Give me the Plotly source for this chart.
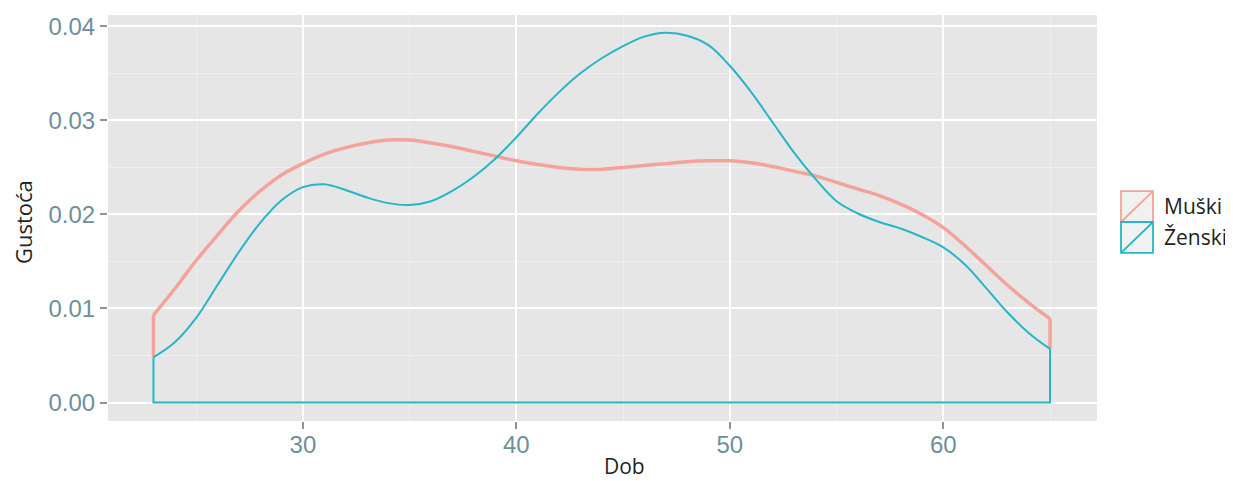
import plotly.graph_objects as go

# ---- data ----
AGE = list(range(23, 66))
MUSKI = [0.0093, 0.0121, 0.0151, 0.0178, 0.0204, 0.0225, 0.0242, 0.0254, 0.0264, 0.0271,
         0.0276, 0.0279, 0.0279, 0.0276, 0.0272, 0.0267, 0.0262, 0.0257, 0.0253, 0.0250,
         0.0248, 0.0248, 0.0250, 0.0252, 0.0254, 0.0256, 0.0257, 0.0257, 0.0255, 0.0251,
         0.0246, 0.0241, 0.0234, 0.0227, 0.0220, 0.0211, 0.0200, 0.0186, 0.0167, 0.0146,
         0.0125, 0.0106, 0.0089]
ZENSKI = [0.0048, 0.0064, 0.0090, 0.0125, 0.0160, 0.0191, 0.0215, 0.0229, 0.0232, 0.0226,
          0.0218, 0.0212, 0.0210, 0.0214, 0.0225, 0.0240, 0.0259, 0.0282, 0.0307, 0.0330,
          0.0350, 0.0366, 0.0379, 0.0389, 0.0393, 0.0390, 0.0380, 0.0358, 0.0330, 0.0298,
          0.0266, 0.0238, 0.0214, 0.0201, 0.0192, 0.0185, 0.0176, 0.0165, 0.0147, 0.0122,
          0.0096, 0.0074, 0.0057]
SERIES = ["Muški", "Ženski"]
X_TICKS = [30, 40, 50, 60]
Y_TICKS = [0.00, 0.01, 0.02, 0.03, 0.04]
Y_TICK_TEXT = ["0.00", "0.01", "0.02", "0.03", "0.04"]
X_TITLE = "Dob"
Y_TITLE = "Gustoća"

C_M = "#F4A39A"
C_Z = "#25B6C7"

WIN_W, WIN_H = 1233, 481
OFF = 8  # page body margin
W, H = WIN_W - OFF, WIN_H - OFF
# plot area in window pixels
L, R, T, B = 108, 1097, 13, 421


def px(x):
    return (x - L) / (R - L)


def py(y):
    return (B - y) / (B - T)


fig = go.Figure()

# male: vertical ends (drawn straight) + smooth density curve
fig.add_trace(go.Scatter(
    x=[AGE[0], AGE[0]], y=[ZENSKI[0], MUSKI[0]],
    mode="lines", line=dict(color=C_M, width=3.5),
    showlegend=False, hoverinfo="skip"))
fig.add_trace(go.Scatter(
    x=[AGE[-1], AGE[-1]], y=[ZENSKI[-1], MUSKI[-1]],
    mode="lines", line=dict(color=C_M, width=3.5),
    showlegend=False, hoverinfo="skip"))
fig.add_trace(go.Scatter(
    x=AGE, y=MUSKI, mode="lines",
    line=dict(color=C_M, width=3.5, shape="spline", smoothing=1),
    name=SERIES[0], showlegend=False, hoverinfo="skip"))

# female: open polygon edges + smooth curve
fig.add_trace(go.Scatter(
    x=[AGE[0], AGE[0], AGE[-1], AGE[-1]],
    y=[ZENSKI[0], 0, 0, ZENSKI[-1]],
    mode="lines", line=dict(color=C_Z, width=2),
    showlegend=False, hoverinfo="skip"))
fig.add_trace(go.Scatter(
    x=AGE, y=ZENSKI, mode="lines",
    line=dict(color=C_Z, width=2, shape="spline", smoothing=1),
    name=SERIES[1], showlegend=False, hoverinfo="skip"))

tickfont = dict(family="Liberation Sans, Arial, sans-serif", size=24, color="#6E8F9A")
fig.update_xaxes(
    range=[20.87, 67.2], tickvals=X_TICKS, ticktext=[str(v) for v in X_TICKS],
    showgrid=True, gridcolor="#FFFFFF", gridwidth=1.6,
    minor=dict(dtick=5, tick0=0, showgrid=True, gridcolor="#EFEFEF", gridwidth=1),
    ticks="outside", ticklen=7, tickwidth=1.5, tickcolor="#8C9599",
    ticklabelstandoff=-5,
    tickfont=tickfont, zeroline=False, showline=False)
fig.update_yaxes(
    range=[-0.00196, 0.0412], tickvals=Y_TICKS, ticktext=Y_TICK_TEXT,
    showgrid=True, gridcolor="#FFFFFF", gridwidth=1.6,
    minor=dict(dtick=0.005, tick0=0, showgrid=True, gridcolor="#EFEFEF", gridwidth=1),
    ticks="outside", ticklen=7, tickwidth=1.5, tickcolor="#8C9599",
    tickfont=tickfont, zeroline=False, showline=False)

title_font = dict(family="Open Sans, Noto Sans, sans-serif", size=21, color="#231F20")
annotations = [
    dict(text=X_TITLE, x=px(624), y=py(466), xref="paper", yref="paper",
         showarrow=False, xanchor="center", yanchor="middle", font=title_font),
    dict(text=Y_TITLE, x=px(23), y=py(221), xref="paper", yref="paper",
         showarrow=False, xanchor="center", yanchor="middle", textangle=-90,
         font=dict(family=title_font["family"], size=22, color=title_font["color"])),
]

# legend keys (ggplot-style density keys)
shapes = []
key_x0, key_x1 = 1121, 1153
key_rows = [(190, 221), (221, 252)]
key_cols = [C_M, C_Z]
for (y0, y1), col, name in zip(key_rows, key_cols, SERIES):
    shapes.append(dict(type="rect", xref="paper", yref="paper",
                       x0=px(key_x0), x1=px(key_x1), y0=py(y1), y1=py(y0),
                       fillcolor="#F1F1F1", line=dict(color=col, width=1.8)))
    shapes.append(dict(type="line", xref="paper", yref="paper",
                       x0=px(key_x0), y0=py(y1), x1=px(key_x1), y1=py(y0),
                       line=dict(color=col, width=1.8)))
    annotations.append(dict(text=name, x=px(1162), y=py((y0 + y1) / 2 - 0.5),
                            xref="paper", yref="paper", showarrow=False,
                            xanchor="left", yanchor="middle", font=title_font))

fig.update_layout(
    width=W, height=H,
    margin=dict(l=L - OFF, r=(OFF + W) - R, t=T - OFF, b=(OFF + H) - B, pad=0),
    paper_bgcolor="#FFFFFF", plot_bgcolor="#E6E6E6",
    showlegend=False, annotations=annotations, shapes=shapes)

fig.write_html("out.html")
